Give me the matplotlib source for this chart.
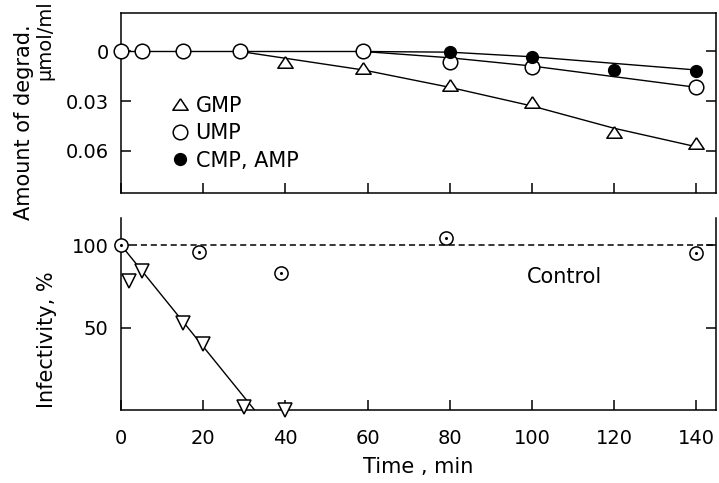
import matplotlib
matplotlib.use("Agg")
import matplotlib.pyplot as plt

plt.rcParams['font.family'] = ['DejaVu Sans']

# ---------------- data ----------------
# Upper panel: amount of degradation (umol/ml)
gmp_t = [40, 59, 80, 100, 120, 140]
gmp_v = [0.0062, 0.0102, 0.0203, 0.0304, 0.0486, 0.0556]
ump_t = [0, 5, 15, 29, 59, 80, 100, 140]
ump_v = [0, 0, 0, 0, 0, 0.0062, 0.0092, 0.0213]
cmp_t = [80, 100, 120, 140]
cmp_v = [0.0005, 0.0035, 0.0112, 0.0116]

# fitted curves drawn in the upper panel
gmp_curve_t = [29, 59, 80, 100, 120, 140]
gmp_curve_v = [0, 0.0112, 0.0217, 0.0330, 0.0465, 0.0577]
ump_curve_t = [0, 59, 80, 100, 140]
ump_curve_v = [0, 0, 0.0038, 0.0088, 0.0217]
cmp_curve_t = [59, 80, 100, 140]
cmp_curve_v = [0, 0.0004, 0.0032, 0.0112]

# Lower panel: infectivity (%)
inf_t = [2, 5, 15, 20, 30, 40]
inf_v = [78, 84, 53, 40, 2, 0]
inf_fit_t = [0, 32.5]
inf_fit_v = [100, 0]
ctrl_t = [0, 19, 39, 79, 140]
ctrl_v = [100, 96, 83, 104, 95]
control_level = 100

x_ticks = [0, 20, 40, 60, 80, 100, 120, 140]
up_yticks = [0, 0.03, 0.06]
up_yticklabels = ['0', '0.03', '0.06']
lo_yticks = [50, 100]
lo_yticklabels = ['50', '100']

# ---------------- figure ----------------
W, H = 719, 483
fig = plt.figure(figsize=(W / 100, H / 100), dpi=100)

def frac_box(x0, y0, x1, y1):
    return [x0 / W, 1 - y1 / H, (x1 - x0) / W, (y1 - y0) / H]

ax1 = fig.add_axes(frac_box(121, 12.7, 716, 193.3))
ax2 = fig.add_axes(frac_box(121, 218, 716, 410))

lw = 1.1
fs = 15
tfs = 14
tri_up = [(0, 0.75), (-1, -0.75), (1, -0.75), (0, 0.75)]

# upper panel
ax1.plot(gmp_curve_t, gmp_curve_v, color='black', lw=1.0, zorder=2)
ax1.plot(ump_curve_t, ump_curve_v, color='black', lw=1.0, zorder=2)
ax1.plot(cmp_curve_t, cmp_curve_v, color='black', lw=1.0, zorder=2)
ax1.plot(gmp_t, gmp_v, ls='none', marker=tri_up, ms=11, mfc='white',
         mec='black', mew=1.1, label='GMP', zorder=3, clip_on=False)
ax1.plot(ump_t, ump_v, ls='none', marker='o', ms=10.5, mfc='white',
         mec='black', mew=1.1, label='UMP', zorder=3, clip_on=False)
ax1.plot(cmp_t, cmp_v, ls='none', marker='o', ms=8.5, mfc='black',
         mec='black', mew=1.0, label='CMP, AMP', zorder=4, clip_on=False)

ax1.set_xlim(0, 144.8)
ax1.set_ylim(0.0859, -0.0235)
ax1.set_xticks(x_ticks)
ax1.set_xticklabels([])
ax1.set_yticks(up_yticks)
ax1.set_yticklabels(up_yticklabels, fontsize=tfs)
ax1.tick_params(axis='both', direction='in', length=7, width=lw, right=True,
                top=False, pad=9)
for s in ax1.spines.values():
    s.set_linewidth(lw)

leg = ax1.legend(loc='upper left', bbox_to_anchor=(0.085, 0.54), frameon=False,
                 fontsize=fs, handlelength=0.8, handletextpad=0.35,
                 labelspacing=0.36, borderpad=0, borderaxespad=0)

# lower panel
ax2.axhline(control_level, color='black', lw=1.1, ls=(0, (4, 2.5)), zorder=1)
ax2.plot(inf_fit_t, inf_fit_v, color='black', lw=1.0, zorder=2)
ax2.plot(inf_t, inf_v, ls='none', marker='v', ms=10.5, mfc='white',
         mec='black', mew=1.1, zorder=3, clip_on=False)
ax2.plot(ctrl_t, ctrl_v, ls='none', marker='o', ms=9.5, mfc='white',
         mec='black', mew=1.1, zorder=3, clip_on=False)
ax2.plot(ctrl_t, ctrl_v, ls='none', marker='o', ms=2.2, mfc='black',
         mec='black', mew=0, zorder=4, clip_on=False)
ax2.text(98.7, 80.5, 'Control', fontsize=fs, va='center', ha='left')

ax2.set_xlim(0, 144.8)
ax2.set_ylim(0, 116.4)
ax2.set_xticks(x_ticks)
ax2.set_xticklabels([str(v) for v in x_ticks], fontsize=tfs)
ax2.set_yticks(lo_yticks)
ax2.set_yticklabels(lo_yticklabels, fontsize=tfs)
ax2.tick_params(axis='both', direction='in', length=7, width=lw, right=True,
                top=False)
ax2.tick_params(axis='y', pad=9)
ax2.tick_params(axis='x', pad=14)
ax2.spines['top'].set_visible(False)
for s in ['left', 'right', 'bottom']:
    ax2.spines[s].set_linewidth(lw)
ax2.set_xlabel('Time , min', fontsize=fs, labelpad=6)

# y labels
fig.text(24 / W, 1 - 220 / H, 'Amount of degrad.', rotation=90, fontsize=fs,
         ha='center', va='bottom')
fig.text(45 / W, 1 - 80 / H, 'μmol/ml', rotation=90, fontsize=14,
         ha='center', va='bottom')
fig.text(47 / W, 1 - 340 / H, 'Infectivity, %', rotation=90, fontsize=fs,
         ha='center', va='center')

fig.savefig('out.png', dpi=100)
